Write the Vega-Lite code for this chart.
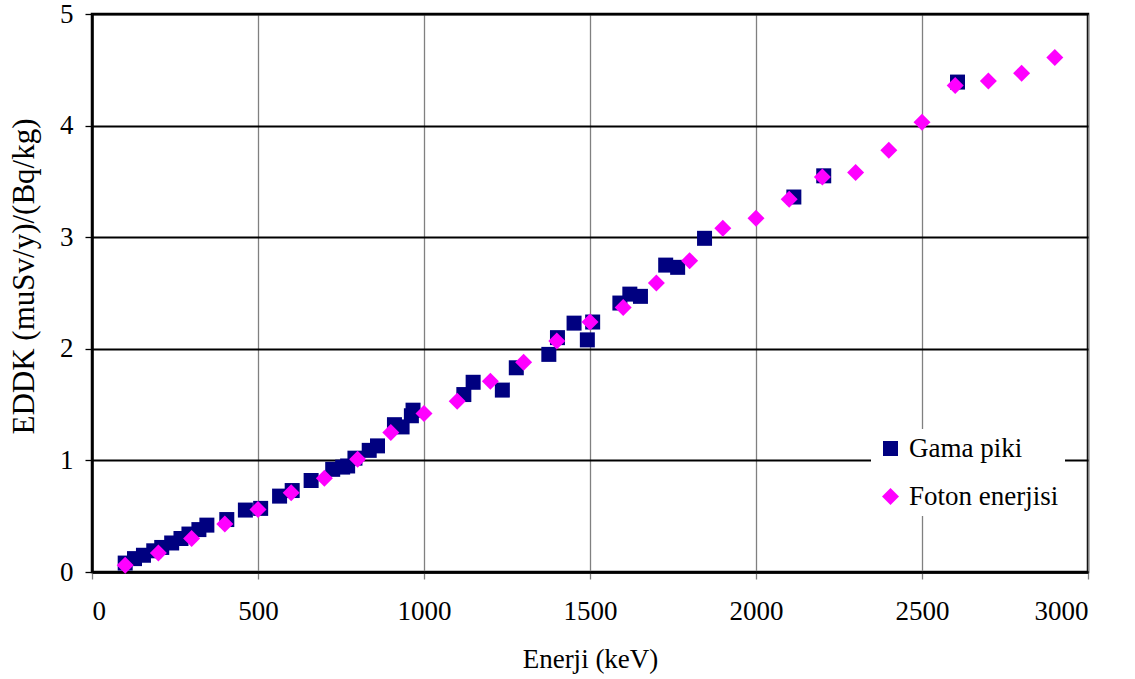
{
  "$schema": "https://vega.github.io/schema/vega-lite/v6.json",
  "width": 996,
  "height": 558,
  "autosize": "none",
  "padding": {"left": 92, "top": 14, "right": 47, "bottom": 107},
  "background": "white",
  "config": {"view": {"stroke": "black", "strokeWidth": 2.5}, "font": "Liberation Serif"},
  "data": {"values": [
    {"series": "Gama piki", "energy": 100, "eddk": 0.08},
    {"series": "Gama piki", "energy": 128, "eddk": 0.12},
    {"series": "Gama piki", "energy": 155, "eddk": 0.15},
    {"series": "Gama piki", "energy": 186, "eddk": 0.19},
    {"series": "Gama piki", "energy": 210, "eddk": 0.22},
    {"series": "Gama piki", "energy": 240, "eddk": 0.26},
    {"series": "Gama piki", "energy": 268, "eddk": 0.30},
    {"series": "Gama piki", "energy": 292, "eddk": 0.34},
    {"series": "Gama piki", "energy": 322, "eddk": 0.38},
    {"series": "Gama piki", "energy": 346, "eddk": 0.42},
    {"series": "Gama piki", "energy": 406, "eddk": 0.47},
    {"series": "Gama piki", "energy": 462, "eddk": 0.555},
    {"series": "Gama piki", "energy": 508, "eddk": 0.57},
    {"series": "Gama piki", "energy": 565, "eddk": 0.68},
    {"series": "Gama piki", "energy": 603, "eddk": 0.73},
    {"series": "Gama piki", "energy": 660, "eddk": 0.82},
    {"series": "Gama piki", "energy": 725, "eddk": 0.92},
    {"series": "Gama piki", "energy": 755, "eddk": 0.94},
    {"series": "Gama piki", "energy": 770, "eddk": 0.95},
    {"series": "Gama piki", "energy": 792, "eddk": 1.02},
    {"series": "Gama piki", "energy": 835, "eddk": 1.09},
    {"series": "Gama piki", "energy": 860, "eddk": 1.13},
    {"series": "Gama piki", "energy": 911, "eddk": 1.32},
    {"series": "Gama piki", "energy": 934, "eddk": 1.30},
    {"series": "Gama piki", "energy": 962, "eddk": 1.40},
    {"series": "Gama piki", "energy": 967, "eddk": 1.45},
    {"series": "Gama piki", "energy": 1120, "eddk": 1.59},
    {"series": "Gama piki", "energy": 1148, "eddk": 1.70},
    {"series": "Gama piki", "energy": 1236, "eddk": 1.63},
    {"series": "Gama piki", "energy": 1278, "eddk": 1.83},
    {"series": "Gama piki", "energy": 1376, "eddk": 1.95},
    {"series": "Gama piki", "energy": 1402, "eddk": 2.10},
    {"series": "Gama piki", "energy": 1452, "eddk": 2.23},
    {"series": "Gama piki", "energy": 1492, "eddk": 2.08},
    {"series": "Gama piki", "energy": 1508, "eddk": 2.24},
    {"series": "Gama piki", "energy": 1590, "eddk": 2.41},
    {"series": "Gama piki", "energy": 1620, "eddk": 2.49},
    {"series": "Gama piki", "energy": 1652, "eddk": 2.47},
    {"series": "Gama piki", "energy": 1728, "eddk": 2.75},
    {"series": "Gama piki", "energy": 1764, "eddk": 2.73},
    {"series": "Gama piki", "energy": 1845, "eddk": 2.99},
    {"series": "Gama piki", "energy": 2114, "eddk": 3.36},
    {"series": "Gama piki", "energy": 2204, "eddk": 3.55},
    {"series": "Gama piki", "energy": 2607, "eddk": 4.39},
    {"series": "Foton enerjisi", "energy": 100, "eddk": 0.06},
    {"series": "Foton enerjisi", "energy": 200, "eddk": 0.17},
    {"series": "Foton enerjisi", "energy": 300, "eddk": 0.30},
    {"series": "Foton enerjisi", "energy": 400, "eddk": 0.43},
    {"series": "Foton enerjisi", "energy": 500, "eddk": 0.56},
    {"series": "Foton enerjisi", "energy": 600, "eddk": 0.71},
    {"series": "Foton enerjisi", "energy": 700, "eddk": 0.84},
    {"series": "Foton enerjisi", "energy": 800, "eddk": 1.01},
    {"series": "Foton enerjisi", "energy": 900, "eddk": 1.25},
    {"series": "Foton enerjisi", "energy": 1000, "eddk": 1.42},
    {"series": "Foton enerjisi", "energy": 1100, "eddk": 1.53},
    {"series": "Foton enerjisi", "energy": 1200, "eddk": 1.71},
    {"series": "Foton enerjisi", "energy": 1300, "eddk": 1.88},
    {"series": "Foton enerjisi", "energy": 1400, "eddk": 2.07},
    {"series": "Foton enerjisi", "energy": 1500, "eddk": 2.24},
    {"series": "Foton enerjisi", "energy": 1600, "eddk": 2.37},
    {"series": "Foton enerjisi", "energy": 1700, "eddk": 2.59},
    {"series": "Foton enerjisi", "energy": 1800, "eddk": 2.79},
    {"series": "Foton enerjisi", "energy": 1900, "eddk": 3.08},
    {"series": "Foton enerjisi", "energy": 2000, "eddk": 3.17},
    {"series": "Foton enerjisi", "energy": 2100, "eddk": 3.34},
    {"series": "Foton enerjisi", "energy": 2200, "eddk": 3.54},
    {"series": "Foton enerjisi", "energy": 2300, "eddk": 3.58},
    {"series": "Foton enerjisi", "energy": 2400, "eddk": 3.78},
    {"series": "Foton enerjisi", "energy": 2500, "eddk": 4.03},
    {"series": "Foton enerjisi", "energy": 2600, "eddk": 4.36},
    {"series": "Foton enerjisi", "energy": 2700, "eddk": 4.40},
    {"series": "Foton enerjisi", "energy": 2800, "eddk": 4.47},
    {"series": "Foton enerjisi", "energy": 2900, "eddk": 4.61}
  ]},
  "mark": {"type": "point", "filled": true, "opacity": 1},
  "encoding": {
    "x": {
      "field": "energy", "type": "quantitative",
      "scale": {"domain": [0, 3000], "nice": false},
      "axis": {
        "title": "Enerji (keV)", "values": [0, 500, 1000, 1500, 2000, 2500, 3000], "format": "d",
        "grid": true, "gridColor": "#808080", "gridWidth": 1.3,
        "domainColor": "black", "domainWidth": 2.5,
        "tickColor": "#808080", "tickSize": 7, "tickWidth": 1.3,
        "labelFont": "Liberation Serif", "labelFontSize": 27, "labelColor": "black", "labelPadding": 19,
        "titleFont": "Liberation Serif", "titleFontSize": 27, "titleFontWeight": "normal", "titleColor": "black", "titlePadding": 22
      }
    },
    "y": {
      "field": "eddk", "type": "quantitative",
      "scale": {"domain": [0, 5], "nice": false},
      "axis": {
        "title": "EDDK (muSv/y)/(Bq/kg)", "values": [0, 1, 2, 3, 4, 5], "format": "d",
        "grid": true, "gridColor": "black", "gridWidth": 2,
        "domainColor": "black", "domainWidth": 2.5,
        "tickColor": "black", "tickSize": 7, "tickWidth": 1.3,
        "labelFont": "Liberation Serif", "labelFontSize": 27, "labelColor": "black", "labelPadding": 12,
        "titleFont": "Liberation Serif", "titleFontSize": 31, "titleFontWeight": "normal", "titleColor": "black", "titlePadding": 19, "titleY": 262
      }
    },
    "color": {
      "field": "series", "type": "nominal",
      "scale": {"domain": ["Gama piki", "Foton enerjisi"], "range": ["#000080", "#FF00FF"]},
      "legend": {
        "title": null, "orient": "none", "legendX": 779, "legendY": 415,
        "fillColor": "white", "padding": 6, "rowPadding": 20,
        "labelFont": "Liberation Serif", "labelFontSize": 27, "labelColor": "black",
        "symbolSize": 210, "symbolOpacity": 1, "labelOffset": 5
      }
    },
    "shape": {
      "field": "series", "type": "nominal",
      "scale": {"domain": ["Gama piki", "Foton enerjisi"], "range": ["square", "diamond"]},
      "legend": {
        "title": null, "orient": "none", "legendX": 779, "legendY": 415,
        "fillColor": "white", "padding": 6, "rowPadding": 20,
        "labelFont": "Liberation Serif", "labelFontSize": 27, "labelColor": "black",
        "symbolSize": 210, "symbolOpacity": 1, "labelOffset": 5
      }
    },
    "size": {
      "field": "series", "type": "nominal",
      "scale": {"domain": ["Gama piki", "Foton enerjisi"], "range": [225, 289]},
      "legend": null
    }
  }
}
